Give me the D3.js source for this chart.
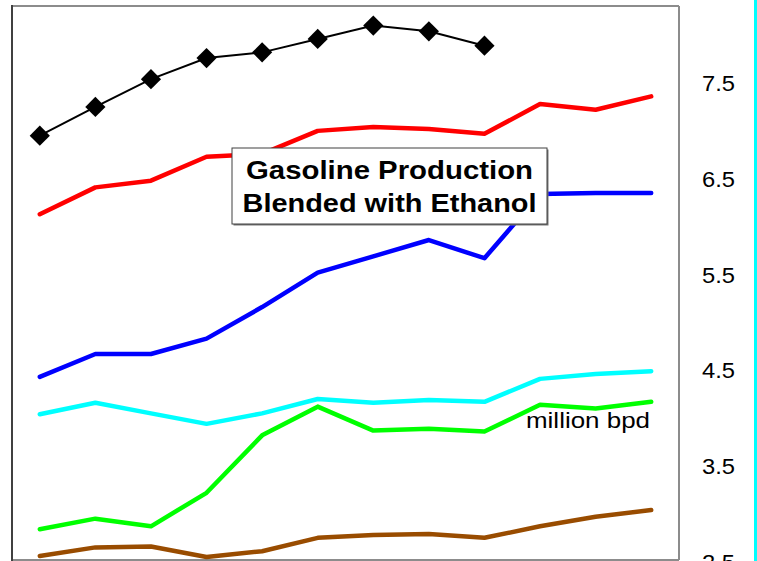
<!DOCTYPE html>
<html>
<head>
<meta charset="utf-8">
<script src="https://cdn.jsdelivr.net/npm/d3@7"></script>
<style>
  html, body { margin: 0; padding: 0; background: #fff; }
  svg { display: block; font-family: "Liberation Sans", Arial, sans-serif; }
</style>
</head>
<body>
<svg id="chart" width="757" height="561"></svg>
<script>
// ---- data ----
const categories = ["1","2","3","4","5","6","7","8","9","10","11","12"];
const blackDiamond = [6.95, 7.25, 7.54, 7.76, 7.82, 7.96, 8.10, 8.04, 7.89];
const redSeries    = [6.13, 6.41, 6.48, 6.73, 6.76, 7.00, 7.04, 7.02, 6.97, 7.28, 7.22, 7.36];
const blueSeries   = [4.43, 4.67, 4.67, 4.83, 5.16, 5.52, 5.69, 5.86, 5.67, 6.34, 6.35, 6.35];
const cyanSeries   = [4.04, 4.16, 4.05, 3.94, 4.05, 4.20, 4.16, 4.19, 4.17, 4.41, 4.46, 4.49];
const greenSeries  = [2.84, 2.95, 2.87, 3.22, 3.82, 4.12, 3.87, 3.89, 3.86, 4.14, 4.10, 4.17];
const brownSeries  = [2.56, 2.65, 2.66, 2.55, 2.61, 2.75, 2.78, 2.79, 2.75, 2.87, 2.97, 3.04];
const tickValues   = [7.5, 6.5, 5.5, 4.5, 3.5, 2.5];
const tickLabels   = ["7.5", "6.5", "5.5", "4.5", "3.5", "2.5"];
const titleLines   = ["Gasoline Production", "Blended with Ethanol"];
const unitLabel    = "million bpd";

// ---- layout ----
const svg = d3.select("#chart");
const plot = { left: 12, right: 679, top: 6, bottom: 560 };

const x = d3.scalePoint().domain(categories).range([plot.left, plot.right]).padding(0.5);
const y = d3.scaleLinear().domain([2.5, 7.5]).range([561.75, 83]);

// plot frame
svg.append("line").attr("x1", plot.left).attr("x2", plot.right).attr("y1", plot.top).attr("y2", plot.top)
  .attr("stroke", "#8c8c8c").attr("stroke-width", 2);
svg.append("line").attr("x1", plot.right).attr("x2", plot.right).attr("y1", plot.top).attr("y2", plot.bottom)
  .attr("stroke", "#8c8c8c").attr("stroke-width", 2);
svg.append("line").attr("x1", plot.left).attr("x2", plot.right).attr("y1", plot.bottom).attr("y2", plot.bottom)
  .attr("stroke", "#8c8c8c").attr("stroke-width", 2);
svg.append("line").attr("x1", plot.left).attr("x2", plot.left).attr("y1", plot.top - 1).attr("y2", 561)
  .attr("stroke", "#404040").attr("stroke-width", 2);

// cyan vertical rule at right edge
svg.append("line").attr("x1", 755.5).attr("x2", 755.5).attr("y1", 0).attr("y2", 561)
  .attr("stroke", "#00ffff").attr("stroke-width", 3);

// right-side value labels
const axisG = svg.append("g");
axisG.selectAll("text").data(tickValues).join("text")
  .attr("x", 718.5)
  .attr("y", d => y(d) + 8)
  .attr("text-anchor", "middle")
  .attr("font-size", 22.5)
  .attr("fill", "#000")
  .attr("textLength", 33)
  .attr("lengthAdjust", "spacingAndGlyphs")
  .text((d, i) => tickLabels[i]);

// lines
const line = d3.line().x((d, i) => x(categories[i])).y(d => y(d));
const series = [
  { values: brownSeries, color: "#994c00", width: 4.5 },
  { values: greenSeries, color: "#00ff00", width: 4.5 },
  { values: cyanSeries,  color: "#00ffff", width: 4.5 },
  { values: blueSeries,  color: "#0000ff", width: 4.5 },
  { values: redSeries,   color: "#ff0000", width: 4.5 }
];
series.forEach(s => {
  svg.append("path").datum(s.values)
    .attr("d", line)
    .attr("fill", "none")
    .attr("stroke", s.color)
    .attr("stroke-width", s.width)
    .attr("stroke-linejoin", "round")
    .attr("stroke-linecap", "round");
});

// black line with diamonds
svg.append("path").datum(blackDiamond)
  .attr("d", line).attr("fill", "none").attr("stroke", "#000").attr("stroke-width", 2);
const diamond = d3.symbol().type(d3.symbolDiamond2).size(260);
svg.selectAll(".dm").data(blackDiamond).join("path")
  .attr("class", "dm")
  .attr("transform", (d, i) => `translate(${x(categories[i])},${y(d)})`)
  .attr("d", diamond)
  .attr("fill", "#000");

// "million bpd"
svg.append("text")
  .attr("x", 650).attr("y", 428)
  .attr("text-anchor", "end")
  .attr("font-size", 22)
  .attr("textLength", 124)
  .attr("lengthAdjust", "spacingAndGlyphs")
  .attr("fill", "#000")
  .text(unitLabel);

// title box
const box = { x: 232, y: 148, w: 315, h: 76 };
svg.append("rect").attr("x", box.x + 1.5).attr("y", box.y + 1.5).attr("width", box.w).attr("height", box.h)
  .attr("fill", "#777");
svg.append("rect").attr("x", box.x).attr("y", box.y).attr("width", box.w).attr("height", box.h)
  .attr("fill", "#fff").attr("stroke", "#404040").attr("stroke-width", 1);
const titleWidths = [287, 294];
svg.selectAll(".ttl").data(titleLines).join("text")
  .attr("class", "ttl")
  .attr("x", box.x + box.w / 2)
  .attr("y", (d, i) => 179 + i * 33)
  .attr("text-anchor", "middle")
  .attr("font-size", 26.5)
  .attr("font-weight", "bold")
  .attr("textLength", (d, i) => titleWidths[i])
  .attr("lengthAdjust", "spacingAndGlyphs")
  .attr("fill", "#000")
  .text(d => d);
</script>
</body>
</html>
